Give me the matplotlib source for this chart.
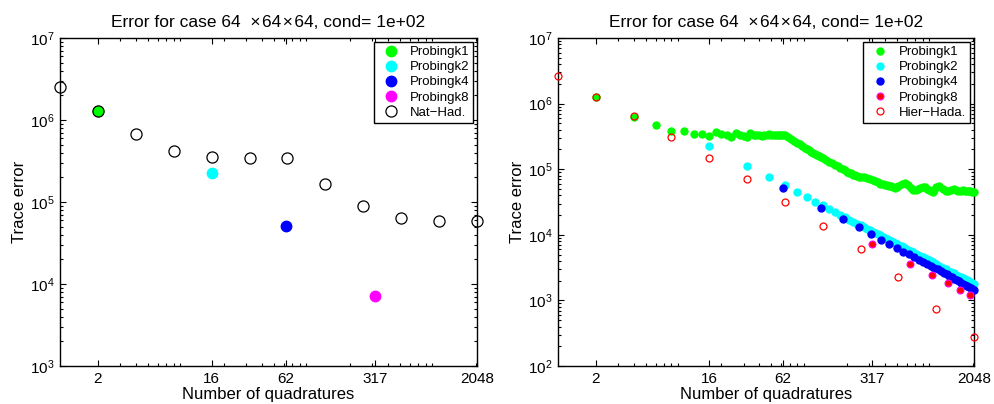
import matplotlib
matplotlib.use('Agg')
import matplotlib.pyplot as plt
from matplotlib.ticker import LogLocator, FixedLocator, FixedFormatter, NullFormatter, LogFormatterSciNotation

plt.rcParams['font.family'] = ['Liberation Sans', 'DejaVu Sans']
plt.rcParams['mathtext.fontset'] = 'custom'
plt.rcParams['mathtext.rm'] = 'Liberation Sans'
plt.rcParams['mathtext.it'] = 'Liberation Sans:italic'

TITLE = 'Error for case 64  \u00d7\u200a64\u200a\u00d7\u200a64, cond= 1e+02'
XTICKS = [2, 16, 62, 317, 2048]
XTICKLABELS = ['2', '16', '62', '317', '2048']

# ---------------- left panel data ----------------
left_k1_x = [2]
left_k1_y = [1.27e6]
left_k2_x = [16]
left_k2_y = [2.26e5]
left_k4_x = [62]
left_k4_y = [5.1e4]
left_k8_x = [317]
left_k8_y = [7.1e3]
nat_x = [1, 2, 4, 8, 16, 32, 64, 128, 256, 512, 1024, 2048]
nat_y = [2.52e6, 1.27e6, 6.67e5, 4.19e5, 3.54e5, 3.47e5, 3.47e5, 1.67e5, 9.0e4, 6.45e4, 5.9e4, 5.9e4]

# ---------------- right panel data ----------------
k1_x = [2, 4, 6, 8, 10, 12, 14, 16, 18, 20, 22, 24, 26, 28, 30, 32,
        34, 36, 38, 40, 42, 44, 46, 48, 50, 52, 54, 56, 58, 60, 62, 64,
        68, 72, 76, 80, 84, 88, 92, 96, 100, 104, 108, 112, 116, 120, 124, 128,
        136, 144, 152, 160, 168, 176, 184, 192, 200, 208, 216, 224, 232, 240, 248, 256,
        272, 288, 304, 320, 336, 352, 368, 384, 400, 416, 432, 448, 464, 480, 496, 512,
        544, 576, 608, 640, 672, 704, 736, 768, 800, 832, 864, 896, 928, 960, 992, 1024,
        1088, 1152, 1216, 1280, 1344, 1408, 1472, 1536, 1600, 1664, 1728, 1792, 1856, 1920, 1984, 2048]
k1_y = [1.26e6, 6.3e5, 4.69e5, 3.84e5, 3.87e5, 3.39e5, 3.45e5, 3.19e5, 3.7e5, 3.4e5, 3.38e5, 3.12e5, 3.6e5, 3.28e5, 3.2e5, 3.12e5,
        3.6e5, 3.38e5, 3.3e5, 3.28e5, 3.22e5, 3.32e5, 3.36e5, 3.5e5, 3.38e5, 3.32e5, 3.35e5, 3.3e5, 3.36e5, 3.32e5, 3.33e5, 3.28e5,
        3.05e5, 2.85e5, 2.68e5, 2.52e5, 2.38e5, 2.26e5, 2.14e5, 2.04e5, 1.95e5, 1.86e5, 1.78e5, 1.71e5, 1.65e5, 1.59e5, 1.54e5, 1.49e5,
        1.38e5, 1.30e5, 1.23e5, 1.16e5, 1.10e5, 1.05e5, 1.00e5, 9.6e4, 9.2e4, 8.9e4, 8.6e4, 8.3e4, 8.05e4, 7.85e4, 7.7e4, 7.6e4,
        7.5e4, 7.4e4, 7.2e4, 6.9e4, 6.6e4, 6.3e4, 6.05e4, 5.85e4, 5.8e4, 5.75e4, 5.6e4, 5.45e4, 5.3e4, 5.2e4, 5.3e4, 5.5e4,
        5.85e4, 6.1e4, 5.7e4, 5.2e4, 4.9e4, 4.85e4, 5.0e4, 5.2e4, 5.4e4, 5.3e4, 5.0e4, 4.75e4, 4.6e4, 4.55e4, 4.9e4, 5.3e4,
        5.5e4, 5.0e4, 4.7e4, 4.6e4, 4.8e4, 5.0e4, 4.8e4, 4.6e4, 4.7e4, 4.8e4, 4.7e4, 4.6e4, 4.7e4, 4.6e4, 4.5e4, 4.45e4]

k2_x = [16, 32, 48, 64, 80, 96, 112, 128, 144, 160, 176, 192, 208, 224, 240, 256,
        272, 288, 304, 320, 336, 352, 368, 384, 400, 416, 432, 448, 464, 480, 496, 512,
        544, 576, 608, 640, 672, 704, 736, 768, 800, 832, 864, 896, 928, 960, 992, 1024,
        1088, 1152, 1216, 1280, 1344, 1408, 1472, 1536, 1600, 1664, 1728, 1792, 1856, 1920, 1984, 2048]
k2_y = [2.27e5, 1.13e5, 7.5e4, 5.73e4, 4.48e4, 3.76e4, 3.19e4, 2.84e4, 2.47e4, 2.2e4, 2.0e4, 1.84e4, 1.70e4, 1.58e4, 1.48e4, 1.39e4,
        1.31e4, 1.24e4, 1.18e4, 1.12e4, 1.07e4, 1.02e4, 9.8e3, 9.4e3, 9.0e3, 8.7e3, 8.4e3, 8.1e3, 7.8e3, 7.55e3, 7.3e3, 7.1e3,
        6.65e3, 6.3e3, 5.95e3, 5.65e3, 5.4e3, 5.15e3, 4.93e3, 4.73e3, 4.54e3, 4.37e3, 4.21e3, 4.06e3, 3.92e3, 3.79e3, 3.67e3, 3.55e3,
        3.34e3, 3.15e3, 2.99e3, 2.84e3, 2.70e3, 2.58e3, 2.47e3, 2.36e3, 2.27e3, 2.18e3, 2.10e3, 2.03e3, 1.96e3, 1.89e3, 1.83e3, 1.77e3]

k4_x = [62, 124, 186, 248, 310, 372, 434, 496, 558, 620, 682, 744, 806, 868, 930, 992, 1054,
        1116, 1178, 1240, 1302, 1364, 1426, 1488, 1550, 1612, 1674, 1736, 1798, 1860, 1922, 1984, 2046]
k4_y = [5.2e4, 2.59e4, 1.72e4, 1.30e4, 1.03e4, 8.4e3, 7.24e3, 6.37e3, 5.53e3, 5.05e3, 4.6e3, 4.2e3, 3.88e3, 3.6e3, 3.36e3, 3.15e3, 2.96e3,
        2.79e3, 2.64e3, 2.50e3, 2.37e3, 2.25e3, 2.14e3, 2.04e3, 1.95e3, 1.87e3, 1.79e3, 1.72e3, 1.65e3, 1.59e3, 1.53e3, 1.47e3, 1.42e3]

k8_x = [317, 634, 951, 1268, 1585, 1902]
k8_y = [7.3e3, 3.63e3, 2.42e3, 1.83e3, 1.46e3, 1.23e3]

hier_x = [1, 2, 4, 8, 16, 32, 64, 128, 256, 512, 1024, 2048]
hier_y = [2.61e6, 1.26e6, 6.37e5, 3.08e5, 1.46e5, 7.06e4, 3.19e4, 1.38e4, 6.08e3, 2.28e3, 735, 281]

fig = plt.figure(figsize=(9.94, 4.04), dpi=100)
axL = fig.add_axes([60 / 994, 38 / 404, 417 / 994, 328 / 404])
axR = fig.add_axes([558 / 994, 38 / 404, 416 / 994, 328 / 404])


def style(ax, ylim):
    ax.set_xscale('log')
    ax.set_yscale('log')
    ax.set_xlim(1, 2048)
    ax.set_ylim(*ylim)
    ax.xaxis.set_major_locator(FixedLocator(XTICKS))
    ax.xaxis.set_major_formatter(FixedFormatter(XTICKLABELS))
    ax.xaxis.set_minor_locator(LogLocator(base=10, subs=range(2, 10)))
    ax.xaxis.set_minor_formatter(NullFormatter())
    ax.yaxis.set_major_locator(LogLocator(base=10, numticks=20))
    ax.yaxis.set_major_formatter(LogFormatterSciNotation())
    ax.yaxis.set_minor_locator(LogLocator(base=10, subs=range(2, 10), numticks=20))
    ax.yaxis.set_minor_formatter(NullFormatter())
    ax.tick_params(which='both', direction='in', top=True, right=True, labelsize=11, width=0.8)
    ax.tick_params(which='major', length=4.5, pad=4)
    ax.tick_params(which='minor', length=2.2)
    for s in ax.spines.values():
        s.set_linewidth(1.0)
    ax.set_title(TITLE, fontsize=12.5, pad=8)
    ax.set_xlabel('Number of quadratures', fontsize=12, labelpad=1)
    ax.set_ylabel('Trace error', fontsize=12, labelpad=2)


# left panel
style(axL, (1e3, 1e7))
axL.plot(left_k1_x, left_k1_y, 'o', color=(0, 1, 0), ms=7.5, mec=(0, 1, 0), label='Probingk1', clip_on=False, zorder=3)
axL.plot(left_k2_x, left_k2_y, 'o', color=(0, 1, 1), ms=7.5, mec=(0, 1, 1), label='Probingk2', clip_on=False, zorder=3)
axL.plot(left_k4_x, left_k4_y, 'o', color=(0, 0, 1), ms=7.5, mec=(0, 0, 1), label='Probingk4', clip_on=False, zorder=3)
axL.plot(left_k8_x, left_k8_y, 'o', color=(1, 0, 1), ms=7.5, mec=(1, 0, 1), label='Probingk8', clip_on=False, zorder=3)
axL.plot(nat_x, nat_y, 'o', mfc='none', mec='black', mew=0.9, ms=8, label='Nat\u2212Had.', clip_on=False, zorder=4)
legL = axL.legend(loc='upper right', fontsize=9.5, numpoints=1, fancybox=False, framealpha=1,
                  edgecolor='black', borderpad=0.3, labelspacing=0.22, handlelength=2.0,
                  handletextpad=0.4, borderaxespad=0.3)
legL.get_frame().set_linewidth(1.0)

# right panel
style(axR, (1e2, 1e7))
axR.plot(k1_x, k1_y, 'o', color=(0, 1, 0), ms=5, mec=(0, 1, 0), label='Probingk1', clip_on=False, zorder=3)
axR.plot(k2_x, k2_y, 'o', color=(0, 1, 1), ms=5, mec=(0, 1, 1), label='Probingk2', clip_on=False, zorder=3)
axR.plot(k4_x, k4_y, 'o', color=(0, 0, 1), ms=5, mec=(0, 0, 1), label='Probingk4', clip_on=False, zorder=3)
axR.plot(k8_x, k8_y, 'o', mfc=(1, 0, 0), ms=5, mec=(1, 0, 1), mew=0.8, label='Probingk8', clip_on=False, zorder=3)
axR.plot(hier_x, hier_y, 'o', mfc='none', mec=(1, 0, 0), mew=0.9, ms=5, label='Hier\u2212Hada.', clip_on=False, zorder=4)
legR = axR.legend(loc='upper right', fontsize=9.5, numpoints=1, fancybox=False, framealpha=1,
                  edgecolor='black', borderpad=0.3, labelspacing=0.22, handlelength=2.0,
                  handletextpad=0.4, borderaxespad=0.3)
legR.get_frame().set_linewidth(1.0)

fig.savefig('out.png', dpi=100)
